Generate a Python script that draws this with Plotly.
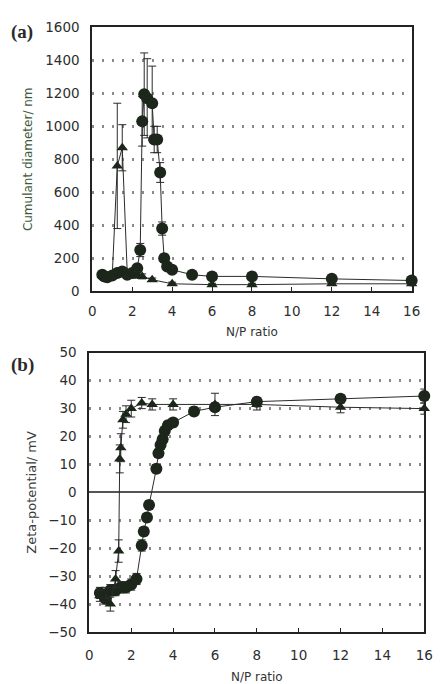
import plotly.graph_objects as go

# ---- Panel (a): cumulant diameter vs N/P ratio ----
np_circ_a = [0.5, 0.6, 0.75, 1.0, 1.25, 1.5, 1.75, 2.0, 2.25, 2.4, 2.5, 2.6, 2.75,
             3.0, 3.1, 3.25, 3.4, 3.5, 3.6, 3.75, 4.0, 5.0, 6.0, 8.0, 12.0, 16.0]
diam_circ = [100, 90, 85, 95, 110, 120, 100, 110, 140, 250, 1030, 1195, 1170,
             1140, 920, 920, 720, 380, 200, 150, 130, 100, 90, 90, 75, 65]
diam_circ_err = [10, 10, 10, 10, 15, 20, 15, 15, 20, 40, 150, 250, 240,
                 225, 80, 80, 60, 40, 25, 15, 10, 8, 8, 8, 8, 8]

np_tri_a = [0.5, 0.75, 1.0, 1.25, 1.5, 1.75, 2.0, 2.25, 2.5, 3.0, 4.0, 6.0, 8.0, 12.0, 16.0]
diam_tri = [95, 90, 100, 760, 870, 110, 95, 100, 90, 70, 45, 40, 40, 45, 45]
diam_tri_err = [10, 10, 15, 380, 140, 20, 15, 20, 15, 10, 10, 8, 8, 8, 8]

# ---- Panel (b): zeta potential vs N/P ratio ----
np_circ_b = [0.5, 0.75, 1.0, 1.25, 1.5, 1.75, 2.0, 2.25, 2.5, 2.6, 2.75, 2.85,
             3.2, 3.3, 3.4, 3.5, 3.6, 3.75, 4.0, 5.0, 6.0, 8.0, 12.0, 16.0]
zeta_circ = [-36, -38, -35, -35, -34, -34, -33, -31, -19, -14, -9, -4.5,
             8.5, 14, 17, 19, 22, 24, 25, 29, 30.5, 32.5, 33.5, 34.5]
zeta_circ_err = [2, 2, 2, 2, 2, 2, 2, 2, 2, 1.5, 1.5, 1.5,
                 1.5, 1.5, 1.5, 1.5, 1.5, 1.5, 1.5, 1.5, 1.5, 1.5, 1.5, 2.5]

np_tri_b = [0.5, 0.75, 1.0, 1.25, 1.4, 1.45, 1.5, 1.6, 1.75, 2.0, 2.5, 3.0, 4.0, 6.0, 8.0, 12.0, 16.0]
zeta_tri = [-37, -36, -40, -31, -21, 12, 16, 26, 28, 30, 32, 31.5, 31.5, 31.5, 31.5, 30.5, 30]
zeta_tri_err = [2, 2, 2.5, 3, 4, 5, 5, 3, 3, 3, 2, 2, 2, 4, 2, 2, 2]

x_ticks = [0, 2, 4, 6, 8, 10, 12, 14, 16]
y_ticks_a = [0, 200, 400, 600, 800, 1000, 1200, 1400, 1600]
y_ticks_b = [-50, -40, -30, -20, -10, 0, 10, 20, 30, 40, 50]

MARK = "#1c261b"
LINE = "#2b2b2b"
TICKFONT = dict(family="DejaVu Sans", size=13.5, color="#2e2e2e")


def series(x, y, err, symbol, size, xa, ya):
    return go.Scatter(
        x=x, y=y, mode="lines+markers", xaxis=xa, yaxis=ya,
        line=dict(color=LINE, width=1),
        marker=dict(symbol=symbol, size=size, color=MARK),
        error_y=dict(type="data", array=err, color=LINE, thickness=1, width=4),
        showlegend=False, cliponaxis=False,
    )


fig = go.Figure()
fig.add_trace(series(np_circ_a, diam_circ, diam_circ_err, "circle", 12, "x", "y"))
fig.add_trace(series(np_tri_a, diam_tri, diam_tri_err, "triangle-up", 10, "x", "y"))
fig.add_trace(series(np_circ_b, zeta_circ, zeta_circ_err, "circle", 12, "x2", "y2"))
fig.add_trace(series(np_tri_b, zeta_tri, zeta_tri_err, "triangle-up", 10, "x2", "y2"))

frame = dict(showline=True, linecolor="#222", linewidth=2, mirror=True)
grid = dict(showgrid=True, gridcolor="#8a8a8a", gridwidth=2.5, griddash="2px,8px")

fig.update_layout(
    width=443, height=684,
    margin=dict(l=0, r=0, t=0, b=0),
    paper_bgcolor="white", plot_bgcolor="white",
    xaxis=dict(domain=[0.2054, 0.948], range=[0, 16], tickvals=x_ticks,
               ticks="inside", ticklen=4, tickcolor="#222", showgrid=False,
               zeroline=False, tickfont=TICKFONT, ticklabelstandoff=7,
               title=dict(text="N/P ratio", standoff=9,
                          font=dict(family="DejaVu Sans", size=12, color="#333")),
               anchor="y", **frame),
    yaxis=dict(domain=[0.576, 0.971], range=[0, 1600], tickvals=y_ticks_a,
               ticks="", zeroline=False, tickfont=TICKFONT, ticklabelstandoff=8,
               title=dict(text="Cumulant diameter/ nm", standoff=10,
                          font=dict(family="DejaVu Sans", size=12, color="#3d5a3d")),
               anchor="x", **frame, **grid),
    xaxis2=dict(domain=[0.1986, 0.9774], range=[0, 16], tickvals=x_ticks,
                ticks="inside", ticklen=4, tickcolor="#222", showgrid=False,
                zeroline=False, tickfont=TICKFONT, ticklabelstandoff=10,
                title=dict(text="N/P ratio", standoff=12,
                           font=dict(family="DejaVu Sans", size=12, color="#333")),
                anchor="y2", **frame),
    yaxis2=dict(domain=[0.0658, 0.4839], range=[-50, 50], tickvals=y_ticks_b,
                ticks="", zeroline=True, zerolinecolor="#555", zerolinewidth=1.5,
                tickfont=TICKFONT, ticklabelstandoff=8,
                title=dict(text="Zeta-potential/ mV", standoff=9,
                           font=dict(family="DejaVu Sans", size=13, color="#3a3a3a")),
                anchor="x2", **frame, **grid),
    annotations=[
        dict(text="<b>(a)</b>", xref="paper", yref="paper", x=0.012, y=1 - 25 / 684,
             xanchor="left", yanchor="middle", showarrow=False,
             font=dict(family="Liberation Serif", size=19, color="#2a2a2a")),
        dict(text="<b>(b)</b>", xref="paper", yref="paper", x=0.012, y=1 - 366 / 684,
             xanchor="left", yanchor="middle", showarrow=False,
             font=dict(family="Liberation Serif", size=19, color="#2a2a2a")),
    ],
)

fig.write_html("out.html")
